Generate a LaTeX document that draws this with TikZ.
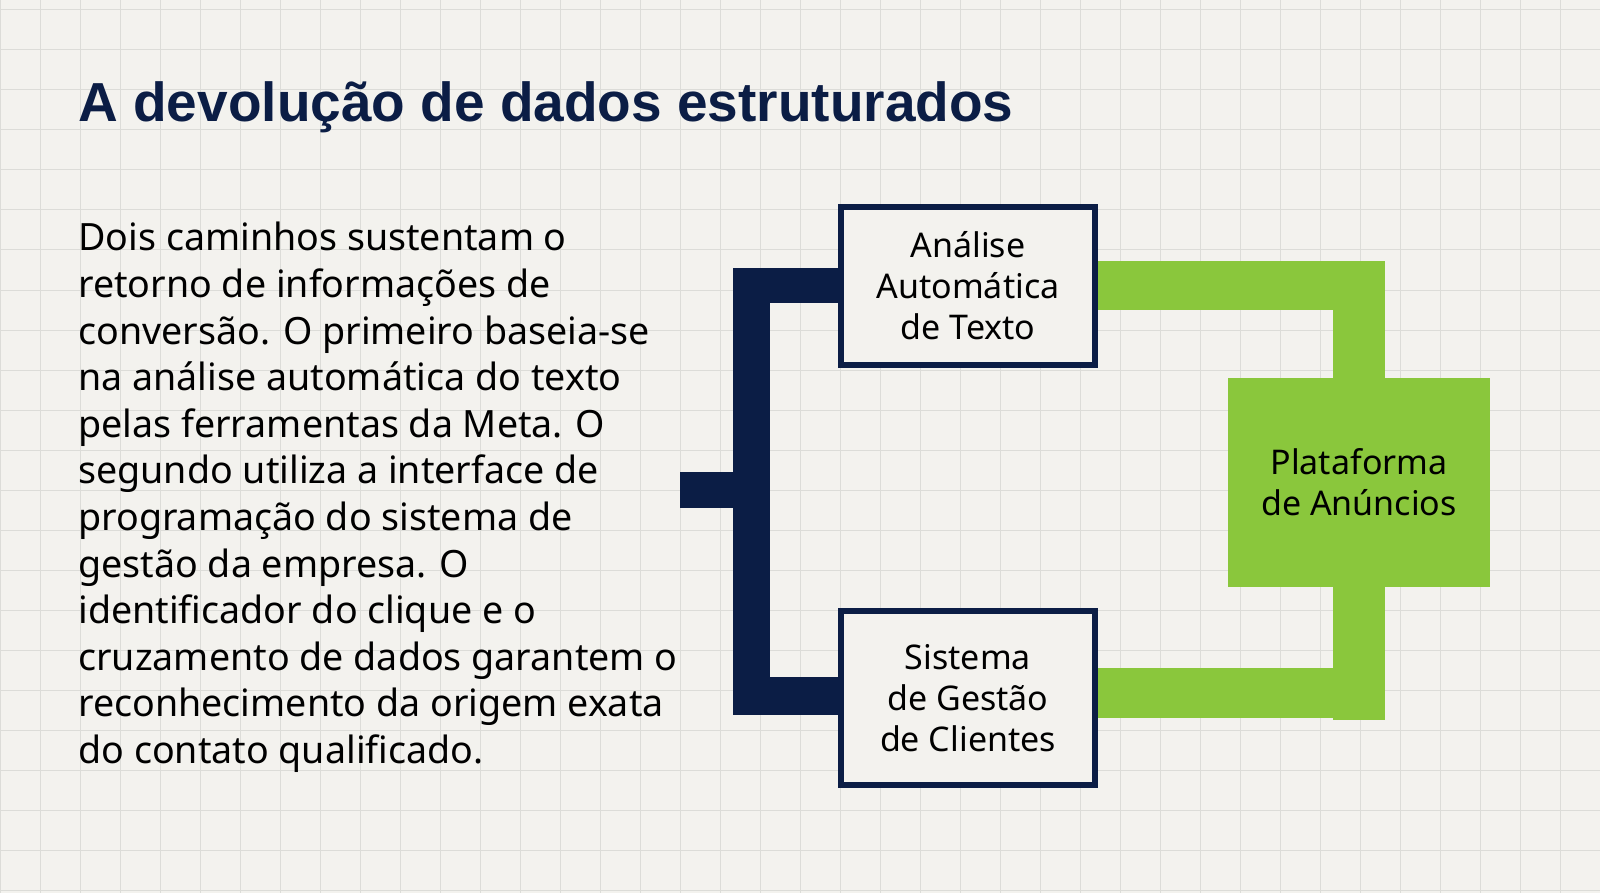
\documentclass[tikz,border=0pt]{standalone}
\usepackage{fontspec}
\setmainfont{Noto Sans}
\newfontfamily\titlefont{Liberation Sans}
\definecolor{bg}{HTML}{F3F2EE}
\definecolor{gridc}{HTML}{DCDCD8}
\definecolor{navy}{HTML}{0B1D45}
\definecolor{lime}{HTML}{8AC73C}
\begin{document}
\begin{tikzpicture}[x=0.5pt,y=-0.5pt,
  box/.style={draw=navy,line width=3pt,fill=bg,inner sep=0pt,align=center,font=\fontsize{17}{20.5}\selectfont},
  navyf/.style={fill=navy},
  limef/.style={fill=lime}]
\useasboundingbox (0,0) rectangle (1600,893);
\fill[bg] (0,0) rectangle (1600,893);
\foreach \i in {0,...,40} \draw[gridc,line width=0.5pt] (\i*40,0) -- (\i*40,893);
\foreach \j in {0,...,22} \draw[gridc,line width=0.5pt] (0,\j*40+10) -- (1600,\j*40+10);
% title
\node[anchor=base west,inner sep=0pt,text=navy,font=\titlefont\bfseries\fontsize{27.5}{34}\selectfont] (title) at (78,122) {A devolução de dados estruturados};
% body
\node[anchor=north west,inner sep=0pt,align=left,text=black,font=\fontsize{18.8}{23.3}\selectfont] (body) at (78,222) {Dois caminhos sustentam o\\retorno de informações de\\conversão. O primeiro baseia-se\\na análise automática do texto\\pelas ferramentas da Meta. O\\segundo utiliza a interface de\\programação do sistema de\\gestão da empresa. O\\identificador do clique e o\\cruzamento de dados garantem o\\reconhecimento da origem exata\\do contato qualificado.};
% navy bracket
\fill[navyf] (680,472) rectangle (735,508);
\fill[navyf] (733,268) rectangle (770,715);
\fill[navyf] (733,268) rectangle (845,303);
\fill[navyf] (733,677) rectangle (845,715);
% green connectors
\fill[limef] (1095,261) rectangle (1385,310);
\fill[limef] (1333,261) rectangle (1385,720);
\fill[limef] (1095,668) rectangle (1385,718);
\node[fill=lime,minimum width=131pt,minimum height=104.5pt,inner sep=0pt,align=center,font=\fontsize{17}{20.5}\selectfont] (plat) at (1359,482.5) {Plataforma\\de Anúncios};
% boxes
\node[box,minimum width=127pt,minimum height=79pt] (a) at (968,286) {Análise\\Automática\\de Texto};
\node[box,minimum width=127pt,minimum height=87pt] (s) at (968,698) {Sistema\\de Gestão\\de Clientes};
\end{tikzpicture}
\end{document}
